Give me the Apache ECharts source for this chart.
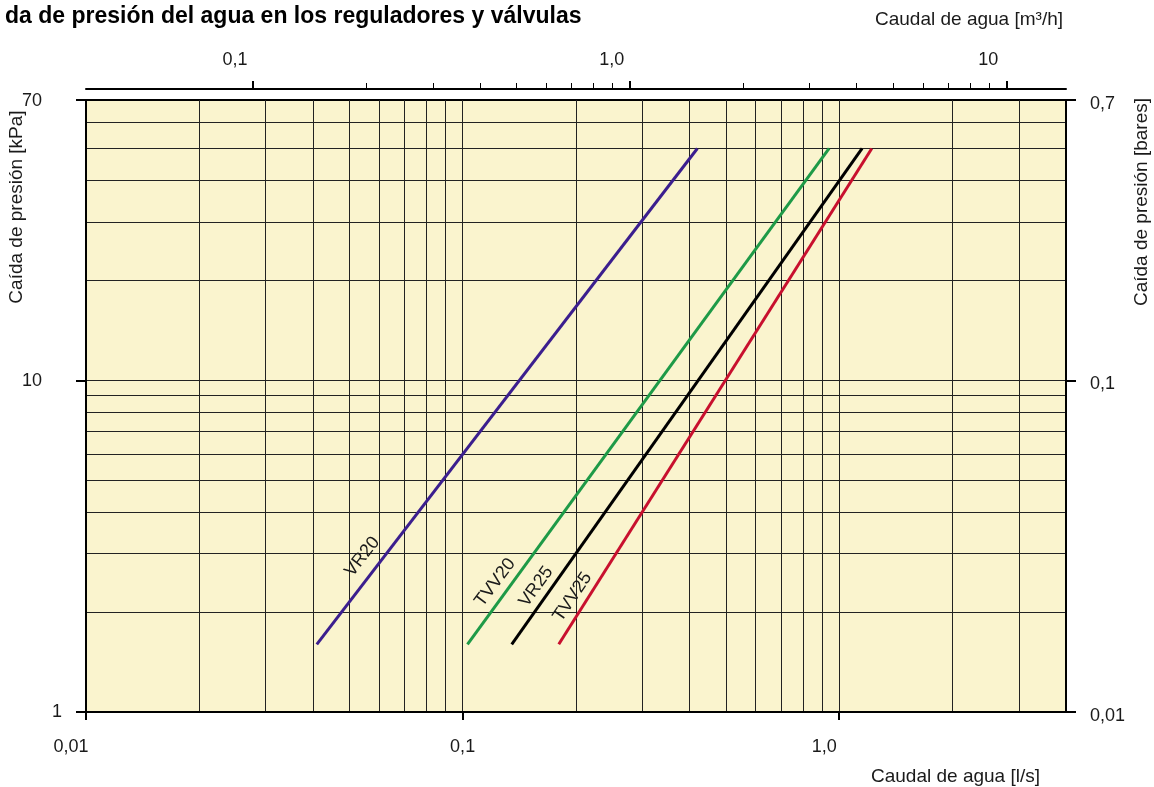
<!DOCTYPE html>
<html><head><meta charset="utf-8">
<script src="https://cdn.jsdelivr.net/npm/echarts@6/dist/echarts.min.js"></script>
<style>html,body{margin:0;padding:0;background:#fff}#c{width:1154px;height:787px}</style>
</head><body><div id="c"></div>
<script>
// ---- data ----
const seriesNames = ['VR20', 'TVV20', 'VR25', 'TVV25'];
const flowVR20 = [0.041, 0.42];
const dpVR20 = [1.6, 50];
const flowTVV20 = [0.103, 0.94];
const dpTVV20 = [1.6, 50];
const flowVR25 = [0.135, 1.15];
const dpVR25 = [1.6, 50];
const flowTVV25 = [0.18, 1.22];
const dpTVV25 = [1.6, 50];

const bottomTicks = [0.01, 0.1, 1];
const bottomLabels = ['0,01', '0,1', '1,0'];
const gridX = [0.02, 0.03, 0.04, 0.05, 0.06, 0.07, 0.08, 0.09, 0.1, 0.2, 0.3, 0.4, 0.5, 0.6, 0.7, 0.8, 0.9, 1, 2, 3];
const topMajor = [0.1, 1, 10];
const topLabels = ['0,1', '1,0', '10'];
const topMinor = [0.2, 0.3, 0.4, 0.5, 0.6, 0.7, 0.8, 0.9, 2, 3, 4, 5, 6, 7, 8, 9];
const leftTicks = [1, 10, 70];
const leftLabels = ['1', '10', '70'];
const gridY = [2, 3, 4, 5, 6, 7, 8, 9, 10, 20, 30, 40, 50, 60];
const rightTicks = [0.01, 0.1, 0.7];
const rightLabels = ['0,01', '0,1', '0,7'];

// ---- styling ----
const FONT = '"Liberation Sans", Arial, Helvetica, sans-serif';
const TXT = '#1a1a1a';
const BG = '#FAF4CE';
const FS = 18;
function lookup(ticks, labels) {
  return function (v) {
    for (let i = 0; i < ticks.length; i++) {
      if (Math.abs(v - ticks[i]) / ticks[i] < 1e-6) return labels[i];
    }
    return '';
  };
}
const lineDefs = [
  { name: seriesNames[0], x: flowVR20, y: dpVR20, color: '#3B1E8E', rot: 52, off: [97, -18] },
  { name: seriesNames[1], x: flowTVV20, y: dpTVV20, color: '#1E9A47', rot: 53, off: [66, -15] },
  { name: seriesNames[2], x: flowVR25, y: dpVR25, color: '#000000', rot: 54, off: [61, -14] },
  { name: seriesNames[3], x: flowTVV25, y: dpTVV25, color: '#C8102E', rot: 56, off: [47, -15] }
];

const series = lineDefs.map(d => ({
  name: d.name,
  type: 'line',
  xAxisIndex: 0,
  yAxisIndex: 0,
  showSymbol: false,
  symbol: 'none',
  silent: true,
  data: d.x.map((v, i) => [v, d.y[i]]),
  lineStyle: { color: d.color, width: 3 },
  markPoint: {
    symbol: 'circle', symbolSize: 0, silent: true, animation: false,
    data: [{ coord: [d.x[0], d.y[0]] }],
    label: {
      show: true, position: 'inside', formatter: d.name, rotate: d.rot, offset: d.off,
      color: TXT, fontSize: FS, fontFamily: FONT
    }
  }
}));

const axisBlack = { show: true, lineStyle: { color: '#000', width: 2 } };
const noLine = { show: false };

const option = {
  animation: false,
  backgroundColor: '#ffffff',
  title: {
    text: 'da de presión del agua en los reguladores y válvulas',
    left: 0, top: 0,
    textStyle: { fontFamily: FONT, fontWeight: 'bold', fontSize: 23, color: '#000' }
  },
  grid: {
    left: 86, right: 88, top: 100, bottom: 75,
    show: true, backgroundColor: BG, borderColor: '#000', borderWidth: 2
  },
  xAxis: [
    {
      type: 'log', logBase: 10, min: 0.01, max: 4, position: 'bottom',
      axisLine: axisBlack,
      axisTick: { show: true, customValues: bottomTicks, length: 8, lineStyle: { color: '#000', width: 2 } },
      axisLabel: {
        customValues: bottomTicks, margin: 26, color: TXT, fontSize: FS, fontFamily: FONT,
        formatter: function (v) {
          const t = lookup(bottomTicks, bottomLabels)(v);
          return t === '0,1' ? '{c|' + t + '}' : '{s|' + t + '}';
        },
        rich: {
          c: { fontSize: FS, fontFamily: FONT, color: TXT },
          s: { fontSize: FS, fontFamily: FONT, color: TXT, padding: [0, 30, 0, 0] }
        }
      },
      splitLine: { show: false }
    },
    {
      type: 'log', logBase: 10, min: 0.01, max: 4, position: 'bottom',
      axisLine: noLine,
      axisTick: { show: false, customValues: gridX },
      axisLabel: { show: false },
      splitLine: { show: true, lineStyle: { color: '#222', width: 1 } }
    },
    {
      type: 'log', logBase: 10, min: 0.036, max: 14.4, position: 'top', offset: 11,
      axisLine: axisBlack,
      axisTick: { show: true, customValues: topMajor, length: 8, lineStyle: { color: '#000', width: 2 } },
      axisLabel: {
        customValues: topMajor, margin: 20, color: TXT, fontSize: FS, fontFamily: FONT,
        formatter: function (v) { return '{s|' + lookup(topMajor, topLabels)(v) + '}'; },
        rich: { s: { fontSize: FS, fontFamily: FONT, color: TXT, padding: [0, 36, 0, 0] } }
      },
      splitLine: { show: false }
    },
    {
      type: 'log', logBase: 10, min: 0.036, max: 14.4, position: 'top', offset: 11,
      axisLine: noLine,
      axisTick: { show: true, customValues: topMinor, length: 6, lineStyle: { color: '#000', width: 1 } },
      axisLabel: { show: false },
      splitLine: { show: false }
    }
  ],
  yAxis: [
    {
      type: 'log', logBase: 10, min: 1, max: 70, position: 'left',
      axisLine: axisBlack,
      axisTick: { show: true, customValues: leftTicks, length: 10, lineStyle: { color: '#000', width: 2 } },
      axisLabel: {
        customValues: leftTicks, margin: 24, color: TXT, fontSize: FS, fontFamily: FONT,
        formatter: function (v) {
          const t = lookup(leftTicks, leftLabels)(v);
          return t === '1' ? '{c|' + t + '}' : '{s|' + t + '}';
        },
        rich: {
          c: { fontSize: FS, fontFamily: FONT, color: TXT },
          s: { fontSize: FS, fontFamily: FONT, color: TXT, padding: [2, 20, 0, 0] }
        }
      },
      splitLine: { show: false }
    },
    {
      type: 'log', logBase: 10, min: 1, max: 70, position: 'left',
      axisLine: noLine,
      axisTick: { show: false, customValues: gridY },
      axisLabel: { show: false },
      splitLine: { show: true, lineStyle: { color: '#222', width: 1 } }
    },
    {
      type: 'log', logBase: 10, min: 0.01, max: 0.7, position: 'right',
      axisLine: axisBlack,
      axisTick: { show: true, customValues: rightTicks, length: 10, lineStyle: { color: '#000', width: 2 } },
      axisLabel: {
        customValues: rightTicks, margin: 24, color: TXT, fontSize: FS, fontFamily: FONT,
        formatter: function (v) { return '{s|' + lookup(rightTicks, rightLabels)(v) + '}'; },
        rich: { s: { fontSize: FS, fontFamily: FONT, color: TXT, padding: [8, 0, 0, 0] } }
      },
      splitLine: { show: false }
    }
  ],
  graphic: [
    { type: 'text', right: 1154 - 1063, top: 10, style: { text: 'Caudal de agua [m³/h]', fill: TXT, font: '19px ' + FONT } },
    { type: 'text', right: 1154 - 1040, top: 767, style: { text: 'Caudal de agua [l/s]', fill: TXT, font: '19px ' + FONT } },
    { type: 'text', x: 17, y: 207, rotation: Math.PI / 2, style: { text: 'Caída de presión [kPa]', fill: TXT, font: '19px ' + FONT, align: 'center', verticalAlign: 'middle' } },
    { type: 'text', x: 1142, y: 202, rotation: Math.PI / 2, style: { text: 'Caída de presión [bares]', fill: TXT, font: '19px ' + FONT, align: 'center', verticalAlign: 'middle' } }
  ],
  series: series
};
const chart = echarts.init(document.getElementById('c'), null, { renderer: 'canvas' });
chart.setOption(option);
</script>
</body></html>
